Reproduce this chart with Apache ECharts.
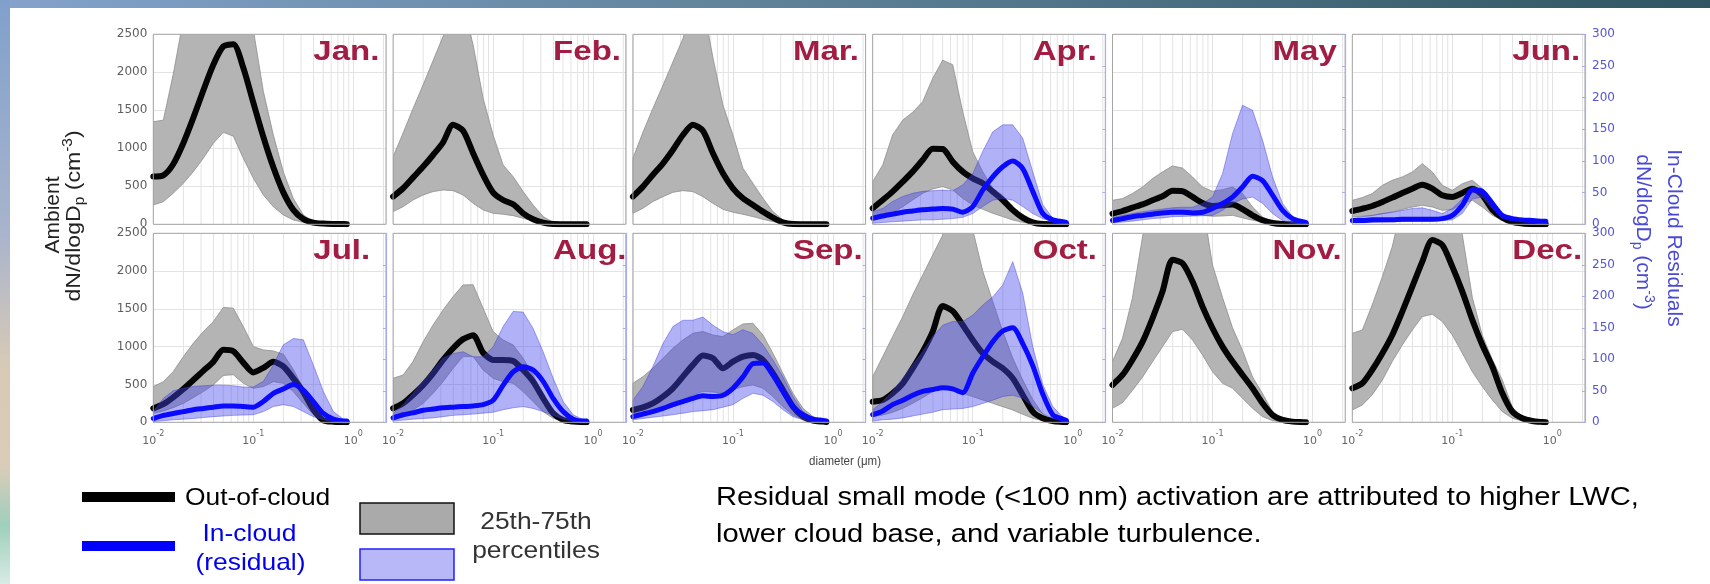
<!DOCTYPE html>
<html>
<head>
<meta charset="utf-8">
<script src="https://cdn.jsdelivr.net/npm/echarts@6/dist/echarts.min.js"></script>
<style>
  html, body { margin: 0; padding: 0; background: #ffffff; }
  #chart { width: 1710px; height: 584px; }
</style>
</head>
<body>
<div id="chart"></div>
<script>
// Particle diameter (µm) at which every size distribution is sampled
const diameters = [0.0100, 0.0126, 0.0158, 0.0200, 0.0251, 0.0316, 0.0398, 0.0501, 0.0631, 0.0794,
                   0.1000, 0.1259, 0.1585, 0.1995, 0.2512, 0.3162, 0.3981, 0.5012, 0.6310, 0.7943, 0.8600];
// Minor log grid lines (2..9 x each decade)
const minorGrid = [0.02, 0.03, 0.04, 0.05, 0.06, 0.07, 0.08, 0.09, 0.2, 0.3, 0.4, 0.5, 0.6, 0.7, 0.8, 0.9, 2];
const monthLabels = ['Jan.', 'Feb.', 'Mar.', 'Apr.', 'May', 'Jun.', 'Jul.', 'Aug.', 'Sep.', 'Oct.', 'Nov.', 'Dec.'];

// Ambient (out-of-cloud) dN/dlogDp, cm^-3: median, 25th and 75th percentiles
const janOut = [630, 645, 790, 1070, 1400, 1760, 2100, 2340, 2370, 2060, 1600, 1150, 750, 420, 190, 70, 22, 9, 5, 3, 2];
const janLo  = [254, 298, 408, 540, 693, 868, 1066, 1210, 1160, 868, 605, 386, 232, 123, 57, 26, 9, 4, 2, 1, 1];
const janHi  = [1350, 1370, 1970, 2700, 3200, 3300, 3300, 3300, 3300, 3200, 2560, 1750, 1175, 690, 340, 123, 35, 9, 5, 3, 2];

const febOut = [364, 474, 614, 759, 912, 1079, 1310, 1230, 934, 649, 417, 320, 263, 145, 66, 22, 4, 2, 1, 1, 1];
const febLo  = [167, 232, 320, 386, 430, 452, 443, 386, 276, 189, 145, 132, 114, 79, 44, 13, 3, 1, 1, 1, 1];
const febHi  = [890, 1202, 1522, 1838, 2154, 2473, 2900, 2900, 2360, 1658, 1175, 781, 627, 430, 254, 101, 26, 4, 2, 1, 1];

const marOut = [364, 496, 649, 803, 978, 1175, 1310, 1230, 934, 671, 474, 342, 254, 167, 88, 26, 4, 2, 1, 1, 1];
const marLo  = [145, 211, 298, 364, 421, 443, 430, 364, 276, 197, 158, 132, 101, 66, 35, 9, 2, 1, 1, 1, 1];
const marHi  = [868, 1211, 1522, 1829, 2136, 2443, 2900, 2900, 2193, 1570, 1175, 737, 539, 342, 167, 57, 13, 3, 1, 1, 1];

const aprOut = [211, 320, 430, 561, 693, 846, 995, 990, 824, 693, 605, 539, 430, 320, 189, 88, 26, 4, 2, 1, 1];
const aprLo  = [57, 101, 154, 232, 320, 408, 465, 496, 452, 342, 254, 197, 145, 101, 57, 26, 9, 2, 1, 1, 1];
const aprHi  = [561, 781, 1175, 1373, 1474, 1614, 1921, 2160, 2100, 1482, 956, 693, 474, 380, 230, 110, 35, 6, 2, 1, 1];

const mayOut = [140, 175, 219, 263, 316, 368, 440, 435, 360, 281, 241, 250, 260, 200, 118, 53, 18, 4, 2, 1, 1];
const mayLo  = [53, 70, 96, 118, 140, 162, 184, 180, 140, 120, 105, 110, 118, 85, 53, 30, 10, 3, 1, 1, 1];
const mayHi  = [316, 338, 404, 491, 601, 689, 768, 740, 623, 491, 434, 456, 491, 404, 228, 96, 31, 9, 3, 1, 1];

const junOut = [175, 206, 241, 294, 351, 412, 469, 520, 469, 382, 360, 412, 469, 382, 193, 88, 31, 9, 2, 1, 1];
const junLo  = [96, 107, 118, 140, 162, 195, 228, 250, 228, 184, 193, 272, 316, 228, 118, 53, 18, 5, 1, 1, 1];
const junHi  = [316, 351, 404, 513, 579, 623, 689, 798, 689, 513, 447, 535, 579, 469, 228, 105, 44, 13, 3, 1, 1];

const julOut = [185, 240, 330, 440, 560, 680, 800, 960, 940, 790, 660, 720, 800, 740, 580, 400, 170, 25, 8, 3, 2];
const julLo  = [119, 150, 194, 251, 326, 406, 494, 620, 630, 516, 450, 472, 538, 516, 406, 250, 100, 15, 4, 2, 1];
const julHi  = [472, 538, 670, 869, 1045, 1200, 1332, 1520, 1510, 1266, 1001, 957, 944, 900, 700, 450, 180, 50, 10, 3, 2];

const augOut = [185, 251, 362, 494, 648, 825, 979, 1100, 1150, 920, 825, 825, 811, 692, 538, 318, 119, 31, 9, 2, 1];
const augLo  = [75, 106, 163, 251, 384, 538, 714, 869, 870, 692, 582, 538, 516, 406, 273, 141, 53, 18, 4, 2, 1];
const augHi  = [582, 626, 803, 1067, 1288, 1486, 1663, 1817, 1820, 1508, 1200, 1089, 1023, 847, 626, 362, 163, 53, 12, 3, 2];

const sepOut = [163, 198, 251, 340, 450, 604, 759, 885, 847, 714, 803, 869, 891, 825, 648, 428, 207, 75, 22, 9, 5];
const sepLo  = [75, 108, 141, 185, 229, 295, 362, 410, 400, 384, 430, 472, 494, 450, 340, 207, 97, 40, 13, 4, 2];
const sepHi  = [516, 604, 714, 847, 979, 1089, 1177, 1200, 1155, 1133, 1222, 1301, 1310, 1155, 913, 648, 384, 185, 75, 31, 10];

const octOut = [273, 295, 384, 516, 714, 935, 1200, 1540, 1470, 1288, 1089, 913, 803, 714, 582, 362, 141, 53, 18, 5, 2];
const octLo  = [75, 97, 132, 185, 251, 326, 406, 472, 450, 384, 340, 295, 251, 207, 163, 106, 53, 22, 9, 2, 1];
const octHi  = [604, 869, 1133, 1398, 1685, 1949, 2213, 2478, 2900, 2900, 2550, 2000, 1600, 1200, 850, 560, 300, 110, 35, 8, 3];

const novOut = [494, 626, 825, 1067, 1376, 1729, 2150, 2103, 1861, 1530, 1244, 1001, 803, 626, 450, 251, 97, 31, 9, 2, 1];
const novLo  = [185, 260, 420, 600, 800, 1000, 1200, 1230, 1089, 891, 670, 516, 450, 318, 185, 75, 22, 5, 2, 1, 1];
const novHi  = [803, 1111, 1641, 2461, 2900, 2900, 2900, 2900, 2900, 2900, 2080, 1650, 1250, 950, 600, 380, 140, 45, 12, 3, 2];

const decOut = [450, 516, 692, 913, 1155, 1464, 1795, 2126, 2410, 2346, 2059, 1729, 1354, 1023, 736, 384, 141, 53, 18, 4, 2];
const decLo  = [163, 229, 362, 560, 803, 1023, 1222, 1398, 1430, 1332, 1155, 913, 670, 472, 295, 141, 53, 18, 4, 2, 1];
const decHi  = [1177, 1221, 1552, 1927, 2324, 2900, 2900, 2900, 2900, 2900, 2900, 2480, 1650, 1150, 830, 560, 200, 70, 25, 6, 3];

// In-cloud residual dN/dlogDp, cm^-3 (right axis): median, 25th and 75th percentiles
const aprIn   = [9.5, 13, 16, 19, 21, 23, 24, 25, 24, 19, 28, 54, 75, 91, 100, 88, 52, 17, 7, 4, 3];
const aprInLo = [1.6, 3, 4, 5, 6, 7, 7, 8, 9, 11, 17, 28, 38, 41, 38, 28, 17, 9, 4, 2, 1.5];
const aprInHi = [20, 25, 36, 44, 49, 52, 53, 54, 53, 62, 80, 115, 146, 157, 157, 136, 83, 31, 9.5, 5, 4];

const mayIn   = [6, 9, 12, 14, 16, 18, 19, 19, 18, 19, 25, 33, 43, 59, 76, 69, 46, 22, 9, 4, 3];
const mayInLo = [2, 3.5, 5, 7, 9, 10, 12, 12.5, 13, 13.5, 14, 22, 33, 40, 43, 33, 17, 6, 2, 1, 1];
const mayInHi = [11, 14, 17, 20, 22, 24, 26, 27, 27, 33, 43, 80, 143, 188, 180, 133, 75, 33, 12, 5, 4];

const junIn   = [6, 6, 7, 7, 7, 8, 8, 8, 8, 9, 14, 30, 54, 52, 33, 14, 9, 7, 6, 5, 5];
const junInLo = [2, 2.5, 3, 3.5, 4, 4.5, 5, 5, 5, 6, 7, 17, 40, 43, 25, 10, 6, 4, 3, 2, 2];
const junInHi = [9, 12, 14, 17, 19, 22, 25, 26, 22, 17, 25, 40, 59, 56, 35, 17, 11, 8, 7, 6, 6];

const julIn   = [6, 11, 14, 17, 20, 22, 24, 26, 26, 25, 24, 33, 46, 53, 60, 51, 33, 14, 5, 2, 2];
const julInLo = [1, 2.5, 4, 5, 6, 7.5, 9, 10, 11, 11.5, 12, 17, 25, 28, 25, 17, 9, 4, 1.5, 1, 1];
const julInHi = [17, 38, 50, 54, 57, 58, 59, 59, 58, 56, 56, 65, 91, 123, 133, 131, 91, 49, 17, 5, 4];

const augIn   = [7, 12, 15, 19, 21, 23, 24, 25, 26, 28, 35, 59, 80, 88, 83, 65, 38, 17, 5, 2, 2];
const augInLo = [2, 3.5, 5, 6, 7, 9, 11, 12, 13, 14.5, 16, 20, 23, 25, 22, 17, 11, 5, 2, 1, 1];
const augInHi = [14, 28, 46, 65, 83, 102, 109, 112, 104, 104, 120, 152, 176, 175, 149, 112, 70, 33, 12, 4, 3];

const sepIn   = [9, 13, 17, 22, 28, 33, 38, 42, 41, 43, 54, 72, 93, 94, 75, 49, 25, 12, 5, 3, 2];
const sepInLo = [4, 6, 8, 10, 12, 14.5, 17, 18.5, 20, 24, 28, 38, 46, 43, 33, 20, 9, 4, 1.5, 1, 1];
const sepInHi = [35, 57, 88, 125, 152, 162, 162, 167, 154, 144, 139, 147, 141, 123, 99, 72, 41, 17, 6, 4, 3];

const octIn   = [12, 18, 28, 35, 43, 49, 52, 55, 53, 47, 78, 104, 128, 145, 150, 125, 90, 45, 12, 5, 3];
const octInLo = [2, 4, 5, 7, 10, 13, 16, 20, 21, 22, 25, 30, 35, 41, 43, 38, 25, 14, 6, 2, 1.5];
const octInHi = [20, 33, 49, 70, 91, 112, 136, 154, 160, 160, 170, 186, 199, 218, 255, 205, 120, 60, 25, 8, 4];

const panels = [
  { out: janOut, lo: janLo, hi: janHi },
  { out: febOut, lo: febLo, hi: febHi },
  { out: marOut, lo: marLo, hi: marHi },
  { out: aprOut, lo: aprLo, hi: aprHi, cloud: aprIn, cloudLo: aprInLo, cloudHi: aprInHi },
  { out: mayOut, lo: mayLo, hi: mayHi, cloud: mayIn, cloudLo: mayInLo, cloudHi: mayInHi },
  { out: junOut, lo: junLo, hi: junHi, cloud: junIn, cloudLo: junInLo, cloudHi: junInHi },
  { out: julOut, lo: julLo, hi: julHi, cloud: julIn, cloudLo: julInLo, cloudHi: julInHi },
  { out: augOut, lo: augLo, hi: augHi, cloud: augIn, cloudLo: augInLo, cloudHi: augInHi },
  { out: sepOut, lo: sepLo, hi: sepHi, cloud: sepIn, cloudLo: sepInLo, cloudHi: sepInHi },
  { out: octOut, lo: octLo, hi: octHi, cloud: octIn, cloudLo: octInLo, cloudHi: octInHi },
  { out: novOut, lo: novLo, hi: novHi },
  { out: decOut, lo: decLo, hi: decHi }
];

// Panel layout (pixels)
const LAYOUT = { x0: 153.3, dx: 239.8, w: 232.7, tops: [34.3, 233.3], heights: [190, 189] };
const TEXT_FONT = "'Liberation Sans', Arial, sans-serif";
const TICK_FONT = "'DejaVu Sans', sans-serif";
const MONTH_RED = '#a11d43';
const CLOUD_BLUE = '#0a0aff';
const RIGHT_AXIS_BLUE = '#a9aeea';

function bandSeries(xi, yi, lo, hi, fill, stroke, z) {
  return {
    type: 'custom', xAxisIndex: xi, yAxisIndex: yi, z: z, clip: true, silent: true,
    data: diameters.map((d, k) => [d, lo[k], hi[k]]),
    encode: { x: 0, y: [1, 2] },
    renderItem: function (params, api) {
      if (params.dataIndex !== 0) return;
      const upper = diameters.map((d, k) => api.coord([d, hi[k]]));
      const lower = diameters.map((d, k) => api.coord([d, lo[k]])).reverse();
      return {
        type: 'polygon',
        shape: { points: upper.concat(lower) },
        style: { fill: fill, stroke: stroke, lineWidth: 0.8 }
      };
    }
  };
}

function minorGridSeries(xi, yi) {
  return {
    type: 'custom', xAxisIndex: xi, yAxisIndex: yi, z: 1, silent: true,
    data: minorGrid.map(v => [v, 0]),
    renderItem: function (params, api) {
      const x = api.coord([api.value(0), 0])[0];
      const cs = params.coordSys;
      return {
        type: 'line',
        shape: { x1: x, y1: cs.y, x2: x, y2: cs.y + cs.height },
        style: { stroke: '#e3e3e3', lineWidth: 1 }
      };
    }
  };
}

const grid = [], xAxis = [], yAxis = [], series = [], graphic = [];

panels.forEach((p, i) => {
  const row = Math.floor(i / 6), col = i % 6;
  const left = LAYOUT.x0 + col * LAYOUT.dx;
  const top = LAYOUT.tops[row];
  const height = LAYOUT.heights[row];
  const blueEdge = !!p.cloud || i === 11;

  grid.push({
    left: left, top: top, width: LAYOUT.w, height: height,
    show: true, z: 10, borderColor: '#a5a5a5', borderWidth: 1,
    backgroundColor: 'transparent', containLabel: false, outerBoundsMode: 'none'
  });

  xAxis.push({
    gridIndex: i, type: 'log', logBase: 10, min: 0.01, max: 2.12,
    axisLine: { show: false }, axisTick: { show: false },
    splitLine: { show: true, lineStyle: { color: '#e3e3e3', width: 1 } },
    axisLabel: {
      show: row === 1, margin: 8, color: '#666',
      formatter: function (v) {
        const e = Math.log10(v), r = Math.round(e);
        return Math.abs(e - r) < 1e-6 ? '{b|10}{s|' + r + '}' : '';
      },
      rich: {
        b: { fontSize: 11, fontFamily: TICK_FONT, color: '#666', verticalAlign: 'bottom', lineHeight: 16 },
        s: { fontSize: 8, fontFamily: TICK_FONT, color: '#666', verticalAlign: 'top', lineHeight: 16 }
      }
    }
  });

  yAxis.push({
    gridIndex: i, type: 'value', min: 0, max: 2500, interval: 500, position: 'left',
    axisLine: { show: false }, axisTick: { show: false },
    splitLine: { show: true, lineStyle: { color: '#e3e3e3', width: 1 } },
    axisLabel: { show: col === 0, fontSize: 12, fontFamily: TICK_FONT, color: '#5e5e5e', margin: 6,
                 formatter: v => String(v) }
  });
  yAxis.push({
    gridIndex: i, type: 'value', min: 0, max: 300, interval: 50, position: 'right', z: 11,
    axisLine: { show: blueEdge, lineStyle: { color: RIGHT_AXIS_BLUE, width: 1.2 } },
    axisTick: { show: blueEdge, inside: true, length: 3, lineStyle: { color: RIGHT_AXIS_BLUE } },
    splitLine: { show: false },
    axisLabel: { show: col === 5, fontSize: 12, fontFamily: TICK_FONT, color: '#5454d4', margin: 7,
                 formatter: v => String(v) }
  });

  const yLeft = 2 * i, yRight = 2 * i + 1;
  series.push(minorGridSeries(i, yLeft));
  series.push(bandSeries(i, yLeft, p.lo, p.hi, '#b4b4b4', '#8e8e8e', 2));
  series.push({
    type: 'line', xAxisIndex: i, yAxisIndex: yLeft, z: 3, silent: true,
    data: diameters.map((d, k) => [d, p.out[k]]),
    showSymbol: false, smooth: 0.25, clip: true,
    lineStyle: { color: '#050505', width: 6, cap: 'round', join: 'round' }
  });
  if (p.cloud) {
    series.push(bandSeries(i, yRight, p.cloudLo, p.cloudHi, 'rgba(70,70,235,0.42)', 'rgba(60,60,220,0.55)', 4));
    series.push({
      type: 'line', xAxisIndex: i, yAxisIndex: yRight, z: 5, silent: true,
      data: diameters.map((d, k) => [d, p.cloud[k]]),
      showSymbol: false, smooth: 0.25, clip: true,
      lineStyle: { color: CLOUD_BLUE, width: 5, cap: 'round', join: 'round' }
    });
  }

  // month name in the upper part of each panel
  graphic.push({
    type: 'text', x: left + 160, y: top + 4.4, scaleX: 1.18, z: 100, silent: true,
    style: {
      text: monthLabels[i], fontSize: 28, fontWeight: 'bold', fontFamily: TEXT_FONT,
      fill: MONTH_RED, align: 'left', verticalAlign: 'top', textAlign: 'left', textVerticalAlign: 'top'
    }
  });
});

function txt(x, y, text, opts) {
  const o = opts || {};
  return {
    type: 'text', x: x, y: y, rotation: o.rotation || 0, scaleX: o.scaleX || 1, z: 100, silent: true,
    style: {
      text: text, fontSize: o.fontSize || 21, fontFamily: o.fontFamily || TEXT_FONT,
      fontWeight: o.fontWeight || 'normal', fill: o.fill || '#000',
      align: o.align || 'left', textAlign: o.align || 'left',
      verticalAlign: o.vAlign || 'top', textVerticalAlign: o.vAlign || 'top',
      rich: o.rich
    }
  };
}

function unitRich(color) {
  return {
    a: { fontSize: 21, fontFamily: TEXT_FONT, fill: color, color: color, verticalAlign: 'middle', lineHeight: 26 },
    sub: { fontSize: 14, fontFamily: TEXT_FONT, fill: color, color: color, verticalAlign: 'bottom', lineHeight: 26 },
    sup: { fontSize: 14, fontFamily: TEXT_FONT, fill: color, color: color, verticalAlign: 'top', lineHeight: 26 }
  };
}
const unitText = '{a|dN/dlogD}{sub|p}{a| (cm}{sup|-3}{a|)}';

// page frame decoration
graphic.push({
  type: 'rect', z: 0, silent: true, shape: { x: 0, y: 0, width: 1710, height: 8 },
  style: { fill: new echarts.graphic.LinearGradient(0, 0, 1, 0, [
    { offset: 0, color: '#84a2cb' }, { offset: 0.45, color: '#5f8299' }, { offset: 1, color: '#2f5662' }
  ]) }
});
graphic.push({
  type: 'rect', z: 0, silent: true, shape: { x: 0, y: 0, width: 10, height: 584 },
  style: { fill: new echarts.graphic.LinearGradient(0, 0, 0, 1, [
    { offset: 0, color: '#80a0cb' }, { offset: 0.4, color: '#a9b4cd' }, { offset: 0.62, color: '#d6c9b6' },
    { offset: 0.8, color: '#d9ccb8' }, { offset: 0.9, color: '#9fcfbd' }, { offset: 1, color: '#d8ebe4' }
  ]) }
});

// axis titles
graphic.push(txt(53, 215, 'Ambient', { rotation: Math.PI / 2, align: 'center', vAlign: 'middle', fill: '#222' }));
graphic.push(txt(74, 216, unitText, { rotation: Math.PI / 2, scaleX: 1.1, align: 'center', vAlign: 'middle', rich: unitRich('#222') }));
graphic.push(txt(1674, 238, 'In-Cloud Residuals', { rotation: -Math.PI / 2, align: 'center', vAlign: 'middle', fill: '#4a4ad6' }));
graphic.push(txt(1643, 232, unitText, { rotation: -Math.PI / 2, align: 'center', vAlign: 'middle', rich: unitRich('#4a4ad6') }));
graphic.push(txt(845, 456, 'diameter (\u03bcm)', { fontSize: 12, scaleX: 0.96, align: 'center', fill: '#444' }));

// legend
graphic.push({ type: 'rect', z: 100, silent: true, shape: { x: 82, y: 492, width: 93, height: 10 }, style: { fill: '#000' } });
graphic.push({ type: 'rect', z: 100, silent: true, shape: { x: 82, y: 541, width: 93, height: 10 }, style: { fill: '#0000ff' } });
graphic.push({ type: 'rect', z: 100, silent: true, shape: { x: 360, y: 503, width: 94, height: 31 },
  style: { fill: '#aaaaaa', stroke: '#111', lineWidth: 1.5 } });
graphic.push({ type: 'rect', z: 100, silent: true, shape: { x: 360, y: 549, width: 94, height: 31 },
  style: { fill: '#b8b8f8', stroke: '#2020ff', lineWidth: 1.5 } });
graphic.push(txt(185, 486, 'Out-of-cloud', { fontSize: 24, scaleX: 1.1 }));
graphic.push(txt(249.5, 522.7, 'In-cloud', { fontSize: 24, scaleX: 1.1, align: 'center', fill: '#0000ee' }));
graphic.push(txt(250.5, 551, '(residual)', { fontSize: 24, scaleX: 1.1, align: 'center', fill: '#0000ee' }));
graphic.push(txt(536, 510.4, '25th-75th', { fontSize: 24, scaleX: 1.1, align: 'center', fill: '#333' }));
graphic.push(txt(536, 539.5, 'percentiles', { fontSize: 24, scaleX: 1.1, align: 'center', fill: '#333' }));

// note
graphic.push(txt(716, 498, 'Residual small mode (<100 nm) activation are attributed to higher LWC,', { fontSize: 26, scaleX: 1.12, vAlign: 'middle' }));
graphic.push(txt(716, 535, 'lower cloud base, and variable turbulence.', { fontSize: 26, scaleX: 1.12, vAlign: 'middle' }));

const chart = echarts.init(document.getElementById('chart'), null, { renderer: 'canvas' });
chart.setOption({
  backgroundColor: '#ffffff',
  animation: false,
  grid: grid,
  xAxis: xAxis,
  yAxis: yAxis,
  series: series,
  graphic: { elements: graphic }
});
</script>
</body>
</html>
